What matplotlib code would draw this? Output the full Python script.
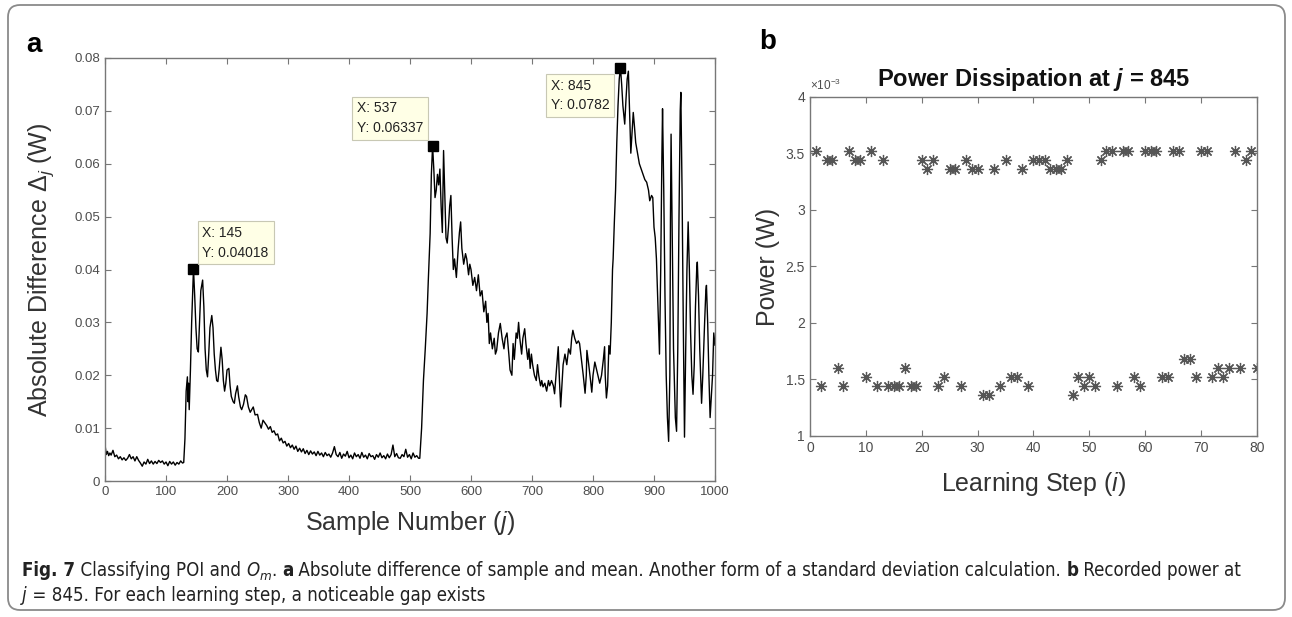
import numpy as np
import matplotlib.pyplot as plt
from matplotlib.patches import FancyBboxPatch
from matplotlib.ticker import FuncFormatter, MultipleLocator

plt.rcParams['font.family'] = ['Liberation Sans', 'DejaVu Sans']
plt.rcParams['mathtext.fontset'] = 'custom'
plt.rcParams['mathtext.rm'] = 'Liberation Sans'
plt.rcParams['mathtext.it'] = 'Liberation Sans:italic'
plt.rcParams['mathtext.bf'] = 'Liberation Sans:bold'
plt.rcParams['mathtext.bfit'] = 'Liberation Sans:bold:italic'

# panel a: absolute difference of sample and mean (values in mW)
sample_j = [0, 2, 4, 6, 8, 10, 13, 16, 19, 22, 25, 28, 31, 34, 37, 40, 43, 46, 49, 52,
            55, 58, 61, 64, 67, 70, 73, 76, 79, 82, 85, 88, 91, 94, 97, 100, 103, 106, 109, 112,
            115, 118, 121, 124, 127, 129,
            131, 133, 135, 136, 137, 138, 140, 142, 145, 147, 149, 151, 153, 155, 157, 160, 162, 164, 166, 168,
            170, 172, 175, 177, 179, 181, 183, 185, 187, 190, 192, 194, 196, 198, 200, 203, 205, 207, 210, 212,
            214, 217, 219, 222, 224, 227, 230, 232, 235, 238, 240, 243, 246, 250, 253, 256, 259, 262, 265, 268,
            271, 274, 277, 280, 283, 286, 289, 292, 295, 298, 301, 304, 307, 310, 313, 316, 319, 322, 325, 328,
            331, 334, 337, 340, 343, 346, 349, 352, 355, 358, 361, 364, 367, 370, 373, 376, 379, 382, 385, 388,
            391, 394, 397, 400, 403, 406, 409, 412, 415, 418, 421, 424, 427, 430, 433, 436, 439, 442, 445, 448,
            451, 454, 457, 460, 463, 466, 469, 472, 475, 478, 481, 484, 487, 490, 493, 496, 499, 502, 505, 508,
            511, 514, 516,
            519, 522, 525, 528, 530, 533, 535, 537, 539, 541, 543, 545, 547, 549, 551, 553, 555, 557, 559, 561,
            563, 565, 567, 569, 571, 573, 576, 579, 581, 583, 585, 588, 591, 593, 596, 598, 600, 603, 606, 609,
            612, 615, 618, 621, 624, 626, 628, 630, 632, 635, 638, 640, 642, 645, 648, 651, 654, 656, 659, 662,
            664, 667, 669, 671, 674, 676, 678, 680, 683, 685, 688, 690, 693, 695, 697, 699, 701, 704, 707, 709,
            711, 714, 716, 718, 721, 724, 727, 729, 732, 735, 737, 740, 743, 745, 747, 749, 751, 754, 757, 760,
            763, 765, 767, 770, 773, 776, 778, 781, 784, 787, 789, 790, 793, 796, 798, 800, 803, 806, 808, 811,
            814, 817, 819, 820, 822, 824, 826, 828, 830, 832, 833, 835, 837, 839, 841, 843, 845, 847, 849, 852,
            854, 856, 858, 860, 862, 864, 866, 868, 870, 873, 876, 879, 882, 885, 888, 891, 893, 896, 898, 900,
            902, 904, 906, 909, 911, 913, 914, 916, 918, 920, 922, 924, 926, 927, 928, 930, 932, 935, 937, 939,
            941, 943, 944, 946, 948, 950, 952, 954, 956, 958, 960, 962, 964, 966, 968, 970, 971, 973, 975, 978,
            980, 983, 985, 986, 988, 990, 992, 994, 996, 998, 1000]
delta_mw = [6.8, 5.0, 5.6, 4.8, 5.3, 4.9, 5.8, 4.6, 4.9, 4.2, 4.6, 4.0, 4.4, 3.9, 4.3, 5.0, 4.2, 4.6, 3.8, 4.6,
            3.9, 3.4, 2.8, 3.6, 3.2, 4.1, 3.3, 3.8, 3.2, 3.7, 3.3, 3.9, 3.5, 3.8, 3.2, 3.6, 2.9, 3.7, 3.2, 3.6,
            3.0, 3.5, 3.2, 3.8, 3.4, 3.5,
            8.0, 17.0, 19.7, 15.0, 18.5, 13.5, 21.0, 30.0, 40.18, 35.0, 29.0, 25.0, 24.4, 30.0, 36.0, 38.0, 33.0, 25.0, 21.0, 19.7,
            24.0, 29.0, 31.3, 29.0, 24.0, 21.0, 19.0, 18.8, 21.0, 25.3, 23.0, 19.0, 17.0, 18.5, 21.0, 21.3, 18.0, 16.0, 15.0, 14.7,
            16.5, 18.0, 16.0, 14.0, 13.5, 14.5, 16.3, 16.0, 14.0, 13.0, 13.4, 14.0, 12.5, 12.6, 11.0, 10.0, 11.5, 11.0, 10.5, 9.8,
            10.3, 9.2, 9.5, 8.7, 8.9, 7.6, 8.1, 7.2, 7.5, 6.6, 7.1, 6.3, 6.8, 6.0, 6.6, 5.6, 6.2, 5.5, 6.1, 5.2,
            5.8, 5.0, 5.7, 5.1, 5.5, 4.8, 5.6, 4.9, 5.3, 4.6, 5.4, 4.8, 5.1, 4.5, 5.3, 6.5, 5.0, 4.6, 5.4, 4.3,
            5.1, 4.7, 5.6, 4.4, 4.9, 4.2, 5.3, 4.6, 5.0, 4.3, 5.4, 4.5, 4.9, 4.2, 5.2, 4.6, 4.8, 4.1, 5.0, 4.5,
            5.3, 4.4, 4.8, 4.2, 5.1, 4.4, 5.0, 6.8, 4.6, 5.2, 4.4, 4.3, 5.0, 4.6, 6.0, 4.5, 5.0, 4.2, 5.3, 4.5,
            4.8, 4.3, 4.3,
            10.0, 19.0, 25.0, 31.7, 38.0, 46.8, 58.0, 63.37, 59.0, 53.6, 55.0, 58.0, 56.0, 59.0, 52.0, 47.0, 62.5, 54.0, 46.0, 45.0,
            48.0, 52.0, 54.0, 46.0, 40.0, 42.0, 38.5, 44.0, 47.0, 49.0, 44.0, 41.0, 43.0, 42.0, 39.0, 41.0, 40.0, 37.0, 38.5, 36.0,
            39.0, 35.0, 36.0, 32.0, 34.0, 30.0, 31.7, 26.0, 28.0, 25.0, 27.0, 24.0, 24.7, 28.0, 29.8, 27.0, 25.0, 27.0, 28.0, 24.0,
            21.0, 20.0, 26.0, 23.0, 28.0, 27.0, 30.0, 27.0, 24.0, 27.0, 28.8, 26.0, 23.0, 25.0, 21.3, 24.0, 22.0, 20.0, 19.0, 22.0,
            20.0, 18.0, 19.0, 17.8, 18.5, 17.0, 19.0, 18.0, 19.0, 18.0, 16.5, 21.0, 25.4, 19.0, 14.0, 18.0, 22.0, 24.0, 22.0, 25.0,
            24.0, 27.0, 28.5, 27.0, 26.0, 26.5, 26.0, 23.0, 20.0, 16.6, 20.0, 24.7, 22.0, 19.0, 16.8, 20.0, 22.5, 21.0, 20.0, 18.5,
            20.0, 23.0, 25.4, 20.0, 15.7, 18.0, 25.6, 24.0, 30.0, 40.0, 42.0, 49.0, 55.0, 64.0, 71.0, 76.0, 78.2, 75.0, 71.0, 67.5,
            72.0, 76.0, 77.5, 70.0, 62.0, 66.0, 69.7, 67.0, 64.0, 62.0, 60.0, 59.0, 58.0, 57.0, 56.5, 55.0, 53.0, 54.0, 53.6, 48.0,
            46.0, 42.0, 35.0, 24.0, 40.0, 62.0, 70.4, 55.0, 35.0, 20.0, 12.0, 7.5, 20.0, 50.0, 65.6, 45.0, 25.0, 12.0, 9.4, 25.0,
            50.0, 70.0, 73.5, 55.0, 30.0, 8.3, 25.0, 40.0, 49.0, 40.0, 28.0, 20.0, 16.4, 22.0, 33.0, 40.0, 41.4, 35.0, 25.0, 14.7,
            20.0, 30.0, 36.0, 37.0, 30.0, 20.0, 12.0, 16.0, 20.0, 28.0, 25.7]

tip_x = [145, 537, 845]
tip_y = [0.04018, 0.06337, 0.0782]

# panel b: recorded power at j = 845 (mW)
step_i = list(range(1, 81))
power_mw = [3.52, 1.44, 3.44, 3.44, 1.60, 1.44, 3.52, 3.44, 3.44, 1.52,
            3.52, 1.44, 3.44, 1.44, 1.44, 1.44, 1.60, 1.44, 1.44, 3.44,
            3.36, 3.44, 1.44, 1.52, 3.36, 3.36, 1.44, 3.44, 3.36, 3.36,
            1.36, 1.36, 3.36, 1.44, 3.44, 1.52, 1.52, 3.36, 1.44, 3.44,
            3.44, 3.44, 3.36, 3.36, 3.36, 3.44, 1.36, 1.52, 1.44, 1.52,
            1.44, 3.44, 3.52, 3.52, 1.44, 3.52, 3.52, 1.52, 1.44, 3.52,
            3.52, 3.52, 1.52, 1.52, 3.52, 3.52, 1.68, 1.68, 1.52, 3.52,
            3.52, 1.52, 1.60, 1.52, 1.60, 3.52, 1.60, 3.44, 3.52, 1.60]

# caption runs: (text, bold, style)
caption_line1 = [('Fig. 7', True, False), (' Classifying POI and ', False, False), ('O', False, True),
                 ('m', False, 'sub'), ('. ', False, False), ('a', True, False),
                 (' Absolute difference of sample and mean. Another form of a standard deviation calculation. ', False, False),
                 ('b', True, False), (' Recorded power at', False, False)]
caption_line2 = [('j', False, True), (' = 845. For each learning step, a noticeable gap exists', False, False)]

delta = np.array(delta_mw) / 1000.0
power = np.array(power_mw) / 1000.0

fig = plt.figure(figsize=(12.92, 6.17), dpi=100)

frame = FancyBboxPatch((0.08, 0.07), 12.77, 6.05, boxstyle='round,pad=0,rounding_size=0.12',
                       transform=fig.dpi_scale_trans, facecolor='none', edgecolor='#8a8a8a',
                       linewidth=1.3, clip_on=False)
fig.patches.append(frame)

tick_col = '#4d4d4d'
spine_col = '#777777'


def style_axes(ax, size):
    for s in ax.spines.values():
        s.set_color(spine_col)
        s.set_linewidth(1.0)
    ax.tick_params(direction='in', top=True, right=True, colors=spine_col,
                   labelcolor=tick_col, labelsize=size, length=4, width=0.8)


# ---- panel a ----
ax1 = fig.add_axes([0.0813, 0.2204, 0.4721, 0.6856])
ax1.plot(sample_j, delta, color='black', linewidth=1.0)
ax1.plot(tip_x, tip_y, linestyle='none', marker='s', markersize=6.5, color='black')
ax1.set_xlim(0, 1000)
ax1.set_ylim(0, 0.08)
ax1.xaxis.set_major_locator(MultipleLocator(100))
ax1.yaxis.set_major_locator(MultipleLocator(0.01))
ax1.yaxis.set_major_formatter(FuncFormatter(lambda v, p: '0' if abs(v) < 1e-9 else f'{v:.2f}'))
style_axes(ax1, 9.5)
ax1.set_xlabel('Sample Number ($j$)', fontsize=18, color='#333333')
ax1.set_ylabel('Absolute Difference $\\Delta_j$ (W)', fontsize=18, color='#333333')
ax1.xaxis.set_label_coords(0.5, -0.065)
ax1.yaxis.set_label_coords(-0.08, 0.5)

tip_box = dict(boxstyle='square,pad=0.35', facecolor='#ffffe6', edgecolor='#c8c8b4', linewidth=0.8)
offsets = [((9, 9), 'left', 'bottom'), ((-9, 11), 'right', 'bottom'), ((-11, -11), 'right', 'top')]
for x, y, (off, ha, va) in zip(tip_x, tip_y, offsets):
    ax1.annotate(f'X: {x}\nY: {y:.5g}', xy=(x, y), xytext=off, textcoords='offset pixels',
                 ha=ha, va=va, multialignment='left', fontsize=10, color='#222222',
                 bbox=tip_box, linespacing=1.5)

fig.text(0.020, 0.927, 'a', fontsize=20, fontweight='bold', ha='left', va='center')

# ---- panel b ----
ax2 = fig.add_axes([0.6269, 0.2934, 0.3460, 0.5494])
ax2.plot(step_i, power, linestyle='none', marker=(8, 2, 0), markersize=8,
         markeredgewidth=0.9, color='#555555')
ax2.set_xlim(0, 80)
ax2.set_ylim(1e-3, 4e-3)
ax2.xaxis.set_major_locator(MultipleLocator(10))
ax2.yaxis.set_major_locator(MultipleLocator(0.5e-3))
ax2.yaxis.set_major_formatter(FuncFormatter(lambda v, p: f'{v * 1000:g}'))
style_axes(ax2, 10)
ax2.set_xlabel('Learning Step ($i$)', fontsize=18, color='#333333')
ax2.set_ylabel('Power (W)', fontsize=18, color='#333333')
ax2.xaxis.set_label_coords(0.5, -0.1)
ax2.yaxis.set_label_coords(-0.068, 0.5)
ax2.set_title('Power Dissipation at $\\mathbfit{j}$ = 845', fontsize=17, fontweight='bold',
              color='#111111', pad=8)
ax2.text(0.0, 1.012, '$\\times\\mathregular{10^{-3}}$', transform=ax2.transAxes, fontsize=8.5,
         color=tick_col, ha='left', va='bottom')

fig.text(0.588, 0.932, 'b', fontsize=20, fontweight='bold', ha='left', va='center')

# ---- caption, drawn run by run ----
cap_font = ['Liberation Sans Narrow', 'DejaVu Sans']
renderer = fig.canvas.get_renderer()


def draw_runs(runs, x_px, y_px, size):
    x = x_px
    drawn = []
    for text, bold, style in runs:
        dy = -4 if style == 'sub' else 0
        fs = size * 0.72 if style == 'sub' else size
        t = fig.text(x / 1292, 1 - (y_px - dy) / 617, text, fontsize=fs, ha='left', va='baseline',
                     family=cap_font, fontstretch='condensed', fontweight='bold' if bold else 'normal',
                     fontstyle='italic' if style is True or style == 'sub' else 'normal', color='#222222')
        x += t.get_window_extent(renderer).width
        drawn.append(t)
    return x - x_px, drawn


# fit the first caption line to the width it has in the figure (about 1218 px)
cap_size = 12.0
width, runs_drawn = draw_runs(caption_line1, 22, 576, cap_size)
for t in runs_drawn:
    t.remove()
cap_size = cap_size * 1218 / width
draw_runs(caption_line1, 22, 576, cap_size)
draw_runs(caption_line2, 22, 601, cap_size)

fig.savefig('out.png', dpi=100)
